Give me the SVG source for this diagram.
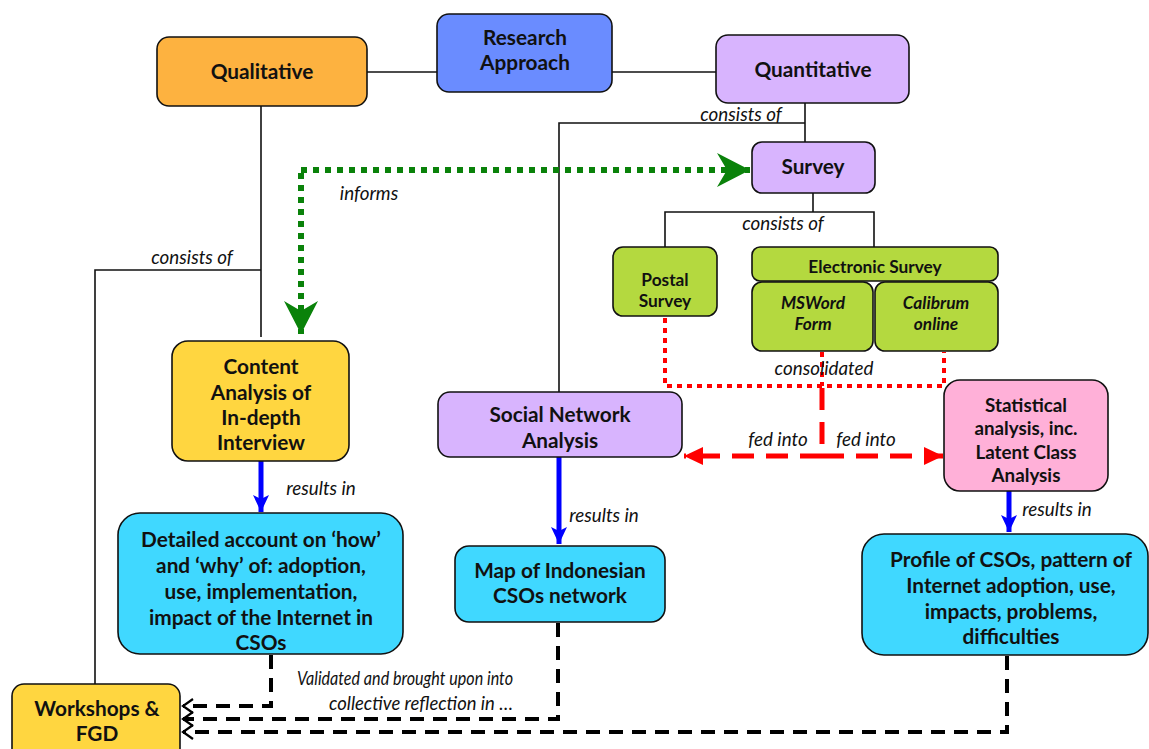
<svg xmlns="http://www.w3.org/2000/svg" width="1149" height="749" viewBox="0 0 1149 749">
  <style>
    .box { stroke: #111; stroke-width: 1.6; }
    .t { font-family: Lato, "Open Sans", sans-serif; font-weight: bold; font-size: 20.8px; fill: #111; text-anchor: middle; }
    .ts { font-family: Lato, "Open Sans", sans-serif; font-weight: bold; font-size: 17.3px; fill: #111; text-anchor: middle; }
    .ti { font-family: Lato, "Open Sans", sans-serif; font-weight: bold; font-style: italic; font-size: 17.3px; fill: #111; text-anchor: middle; }
    .lbl { font-family: Lato, "Open Sans", sans-serif; font-style: italic; font-size: 18.8px; fill: #111; text-anchor: middle; }
    .lbl2 { font-family: Lato, "Open Sans", sans-serif; font-style: italic; font-size: 18.5px; fill: #111; text-anchor: middle; }
    .thin { fill: none; stroke: #111; stroke-width: 1.6; }
    .green { fill: none; stroke: #0a820a; stroke-width: 6; stroke-dasharray: 6 6; }
    .blue { fill: none; stroke: #0000ff; stroke-width: 5; }
    .reddot { fill: none; stroke: #ff0000; stroke-width: 4; stroke-dasharray: 5 5; }
    .reddash { fill: none; stroke: #ff0000; stroke-width: 5; stroke-dasharray: 22 12; }
    .blackdash { fill: none; stroke: #000; stroke-width: 4; stroke-dasharray: 14 9; }
  </style>
  <defs>
    <marker id="mGreen" markerUnits="userSpaceOnUse" markerWidth="34" markerHeight="34" viewBox="0 0 34 34" refX="33" refY="17" orient="auto">
      <path d="M0,0 L33,17 L0,34 L10,17 Z" fill="#0a820a"/>
    </marker>
    <marker id="mBlue" markerUnits="userSpaceOnUse" markerWidth="18" markerHeight="18" viewBox="0 0 18 18" refX="17" refY="9" orient="auto">
      <path d="M0,1 L17,9 L0,17 L4,9 Z" fill="#0000ff"/>
    </marker>
    <marker id="mRed" markerUnits="userSpaceOnUse" markerWidth="20" markerHeight="20" viewBox="0 0 20 20" refX="19" refY="10" orient="auto">
      <path d="M0,1 L19,10 L0,19 Z" fill="#ff0000"/>
    </marker>
    <marker id="mBlack" markerUnits="userSpaceOnUse" markerWidth="14" markerHeight="16" viewBox="0 0 14 16" refX="12" refY="8" orient="auto">
      <path d="M2,1 L12,8 L2,15" fill="none" stroke="#000" stroke-width="2.2"/>
    </marker>
  </defs>

  <!-- connectors -->
  <g id="connectors">
    <!-- approach links -->
    <path class="thin" d="M367,72 H437"/>
    <path class="thin" d="M612,72 H716"/>
    <!-- qualitative consists of -->
    <path class="thin" d="M261,106 V337"/>
    <path class="thin" d="M261,270 H95 V686"/>
    <!-- quantitative consists of -->
    <path class="thin" d="M805,103 V143"/>
    <path class="thin" d="M805,123 H559 V392"/>
    <!-- survey consists of -->
    <path class="thin" d="M813,193 V212"/>
    <path class="thin" d="M665,247 V212 H874 V247"/>
    <!-- informs -->
    <path class="green" d="M301,170 H750" marker-end="url(#mGreen)"/>
    <path class="green" d="M301,173 V334" marker-end="url(#mGreen)"/>
    <!-- consolidated -->
    <path class="reddot" d="M665,318 V386 H944 V352"/>
    <path class="reddot" d="M822,352 V386"/>
    <path class="reddash" d="M822,388 V456"/>
    <!-- fed into -->
    <path class="reddash" d="M822,456 H684" marker-end="url(#mRed)"/>
    <path class="reddash" d="M822,456 H943" marker-end="url(#mRed)"/>
    <!-- results in -->
    <path class="blue" d="M261,461 V512" marker-end="url(#mBlue)"/>
    <path class="blue" d="M559,457 V544" marker-end="url(#mBlue)"/>
    <path class="blue" d="M1009,491 V532" marker-end="url(#mBlue)"/>
    <!-- validated into workshops -->
    <path class="blackdash" d="M271,655 V706 H183" marker-end="url(#mBlack)"/>
    <path class="blackdash" d="M558,623 V719 H183" marker-end="url(#mBlack)"/>
    <path class="blackdash" d="M1007,656 V732 H183" marker-end="url(#mBlack)"/>

    <text class="lbl" x="741" y="121">consists of</text>
    <text class="lbl" x="192" y="264">consists of</text>
    <text class="lbl" x="369" y="200">informs</text>
    <text class="lbl" x="783" y="230">consists of</text>
    <text class="lbl" x="824" y="375">consolidated</text>
    <text class="lbl" x="778" y="446">fed into</text>
    <text class="lbl" x="866" y="446">fed into</text>
    <text class="lbl" x="321" y="495">results in</text>
    <text class="lbl" x="604" y="522">results in</text>
    <text class="lbl" x="1057" y="516">results in</text>
    <text class="lbl2" x="405" y="685" textLength="216" lengthAdjust="spacingAndGlyphs">Validated and brought upon into</text>
    <text class="lbl2" x="421" y="710" textLength="184" lengthAdjust="spacingAndGlyphs">collective reflection in …</text>
  </g>

  <g id="qualitative">
    <rect class="box" x="157" y="37" width="210" height="69" rx="12" fill="#fdb240"/>
    <text class="t" x="262" y="79">Qualitative</text>
  </g>
  <g id="research-approach">
    <rect class="box" x="437" y="14" width="175" height="78" rx="12" fill="#6a8cff"/>
    <text class="t" x="525" y="45">Research</text>
    <text class="t" x="525" y="70">Approach</text>
  </g>
  <g id="quantitative">
    <rect class="box" x="716" y="35" width="193" height="68" rx="12" fill="#d8b4fe"/>
    <text class="t" x="813" y="77">Quantitative</text>
  </g>
  <g id="survey">
    <rect class="box" x="752" y="142" width="123" height="51" rx="10" fill="#d8b4fe"/>
    <text class="t" x="813" y="174">Survey</text>
  </g>
  <g id="postal-survey">
    <rect class="box" x="613" y="247" width="104" height="69" rx="10" fill="#b4d93f"/>
    <text class="ts" x="665" y="286">Postal</text>
    <text class="ts" x="665" y="307">Survey</text>
  </g>
  <g id="electronic-survey">
    <rect class="box" x="752" y="247" width="246" height="34" rx="8" fill="#b4d93f"/>
    <text class="ts" x="875" y="273">Electronic Survey</text>
  </g>
  <g id="msword-form">
    <rect class="box" x="752" y="282" width="121" height="69" rx="10" fill="#b4d93f"/>
    <text class="ti" x="813" y="309">MSWord</text>
    <text class="ti" x="813" y="330">Form</text>
  </g>
  <g id="calibrum-online">
    <rect class="box" x="875" y="282" width="123" height="69" rx="10" fill="#b4d93f"/>
    <text class="ti" x="936" y="309">Calibrum</text>
    <text class="ti" x="936" y="330">online</text>
  </g>
  <g id="content-analysis">
    <rect class="box" x="172" y="341" width="177" height="120" rx="16" fill="#ffd640"/>
    <text class="t" x="261" y="374">Content</text>
    <text class="t" x="261" y="400">Analysis of</text>
    <text class="t" x="261" y="425">In-depth</text>
    <text class="t" x="261" y="450">Interview</text>
  </g>
  <g id="social-network-analysis">
    <rect class="box" x="438" y="392" width="244" height="65" rx="12" fill="#d8b4fe"/>
    <text class="t" x="560" y="422">Social Network</text>
    <text class="t" x="560" y="448">Analysis</text>
  </g>
  <g id="statistical-analysis">
    <rect class="box" x="944" y="380" width="164" height="111" rx="16" fill="#ffb0d8"/>
    <text class="ts" x="1026" y="412" style="font-size:18.8px">Statistical</text>
    <text class="ts" x="1026" y="435" style="font-size:18.8px">analysis, inc.</text>
    <text class="ts" x="1026" y="459" style="font-size:18.8px">Latent Class</text>
    <text class="ts" x="1026" y="482" style="font-size:18.8px">Analysis</text>
  </g>
  <g id="detailed-account">
    <rect class="box" x="118" y="513" width="285" height="141" rx="22" fill="#40d8ff"/>
    <text class="t" x="261" y="547">Detailed account on ‘how’</text>
    <text class="t" x="261" y="573">and ‘why’ of: adoption,</text>
    <text class="t" x="261" y="599">use, implementation,</text>
    <text class="t" x="261" y="625">impact of the Internet in</text>
    <text class="t" x="261" y="650">CSOs</text>
  </g>
  <g id="map-of-csos">
    <rect class="box" x="455" y="546" width="210" height="76" rx="14" fill="#40d8ff"/>
    <text class="t" x="560" y="578">Map of Indonesian</text>
    <text class="t" x="560" y="603">CSOs network</text>
  </g>
  <g id="profile-of-csos">
    <rect class="box" x="862" y="534" width="286" height="121" rx="22" fill="#40d8ff"/>
    <text class="t" x="1011" y="567">Profile of CSOs, pattern of</text>
    <text class="t" x="1011" y="593">Internet adoption, use,</text>
    <text class="t" x="1011" y="619">impacts, problems,</text>
    <text class="t" x="1011" y="644">difficulties</text>
  </g>
  <g id="workshops-fgd">
    <rect class="box" x="12" y="684" width="168" height="80" rx="12" fill="#ffd640"/>
    <text class="t" x="97" y="716">Workshops &amp;</text>
    <text class="t" x="97" y="741">FGD</text>
  </g>
</svg>
